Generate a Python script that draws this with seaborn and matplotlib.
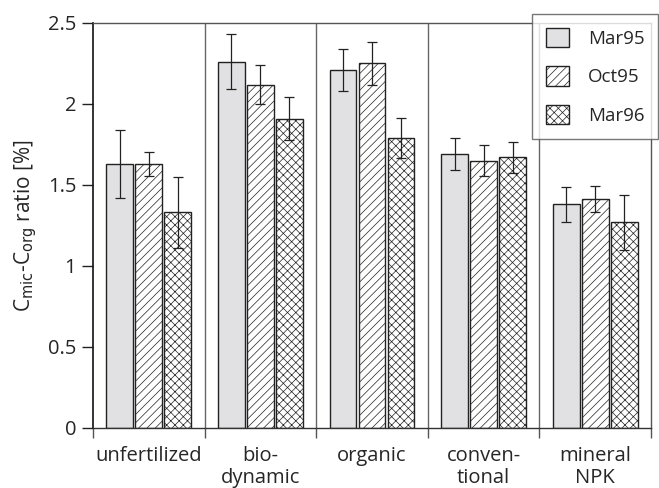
import matplotlib
matplotlib.use("Agg")
import matplotlib.pyplot as plt
import seaborn as sns
import pandas as pd
import numpy as np
from matplotlib.patches import Patch

categories = ["unfertilized", "bio-\ndynamic", "organic", "conven-\ntional", "mineral\nNPK"]
series = ["Mar95", "Oct95", "Mar96"]
mar95 = [1.63, 2.26, 2.21, 1.69, 1.38]
oct95 = [1.63, 2.12, 2.25, 1.65, 1.415]
mar96 = [1.33, 1.91, 1.79, 1.67, 1.27]
mar95_err = [0.21, 0.17, 0.13, 0.10, 0.11]
oct95_err = [0.075, 0.12, 0.135, 0.095, 0.08]
mar96_err = [0.22, 0.13, 0.125, 0.095, 0.17]

sns.set_style("ticks")
plt.rcParams['font.family'] = ['Open Sans', 'DejaVu Sans']
plt.rcParams['hatch.color'] = '#555555'
plt.rcParams['hatch.linewidth'] = 0.5

rows = []
for s, vals, errs in zip(series, [mar95, oct95, mar96], [mar95_err, oct95_err, mar96_err]):
    for c, v, e in zip(categories, vals, errs):
        rows.append({"cat": c, "series": s, "value": v, "err": e})
df = pd.DataFrame(rows)

fig = plt.figure(figsize=(6.59, 4.88), dpi=100)
ax = fig.add_axes([0.141, 0.123, 0.847, 0.830])

sns.barplot(data=df, x="cat", y="value", hue="series", order=categories,
            hue_order=series, errorbar=None, width=0.78, gap=0.08, ax=ax,
            palette=["#e1e1e3", "white", "white"], edgecolor="#222222",
            linewidth=1.0, legend=False)

hatches = ["", "////", "xxxx"]
n = len(categories)
for i, patch in enumerate(ax.patches[:3 * n]):
    patch.set_hatch(hatches[i // n])

errs_all = mar95_err + oct95_err + mar96_err
for i, patch in enumerate(ax.patches[:3 * n]):
    xc = patch.get_x() + patch.get_width() / 2
    h = patch.get_height()
    ax.errorbar(xc, h, yerr=errs_all[i], color="#222222", elinewidth=0.9,
                capsize=3.5, capthick=0.9, fmt="none", zorder=5)

ax.set_xlim(-0.5, 4.5)
ax.set_ylim(0, 2.5)
ax.set_yticks([0, 0.5, 1, 1.5, 2, 2.5])
ax.set_yticklabels(["0", "0.5", "1", "1.5", "2", "2.5"])
ax.tick_params(axis="y", labelsize=14.5, direction="out", length=8, width=1, color="#222222", pad=4)
ax.tick_params(axis="x", which="major", length=0, labelsize=14.5, pad=13)
ax.set_xticks(np.arange(-0.5, 4.6, 1.0), minor=True)
ax.tick_params(axis="x", which="minor", length=7, width=1, color="#555555", direction="out")
for xb in [0.5, 1.5, 2.5, 3.5]:
    ax.axvline(xb, color="#666666", lw=1.0, zorder=0)
for lbl in ax.get_xticklabels():
    lbl.set_linespacing(1.15)

for side in ["top", "right"]:
    ax.spines[side].set_visible(True)
    ax.spines[side].set_color("#555555")
    ax.spines[side].set_linewidth(1.0)
ax.spines["left"].set_color("#111111")
ax.spines["left"].set_linewidth(1.2)
ax.spines["bottom"].set_color("#333333")
ax.spines["bottom"].set_linewidth(1.0)

ax.set_xlabel("")
ax.set_ylabel(r"C$_{\mathrm{mic}}$-C$_{\mathrm{org}}$ ratio [%]", fontsize=15, labelpad=6)

handles = [Patch(facecolor="#e1e1e3", edgecolor="#222222", hatch="", label="Mar95"),
           Patch(facecolor="white", edgecolor="#222222", hatch="////", label="Oct95"),
           Patch(facecolor="white", edgecolor="#222222", hatch="xxxx", label="Mar96")]
leg = fig.legend(handles=handles, loc="upper right", bbox_to_anchor=(0.999, 0.972),
                 fontsize=13.5, frameon=True, fancybox=False, edgecolor="#555555",
                 handlelength=1.2, handleheight=1.2, labelspacing=1.0,
                 borderpad=0.75, handletextpad=1.0, borderaxespad=0)
leg.get_frame().set_linewidth(1.0)

fig.savefig("out.png", dpi=100)
